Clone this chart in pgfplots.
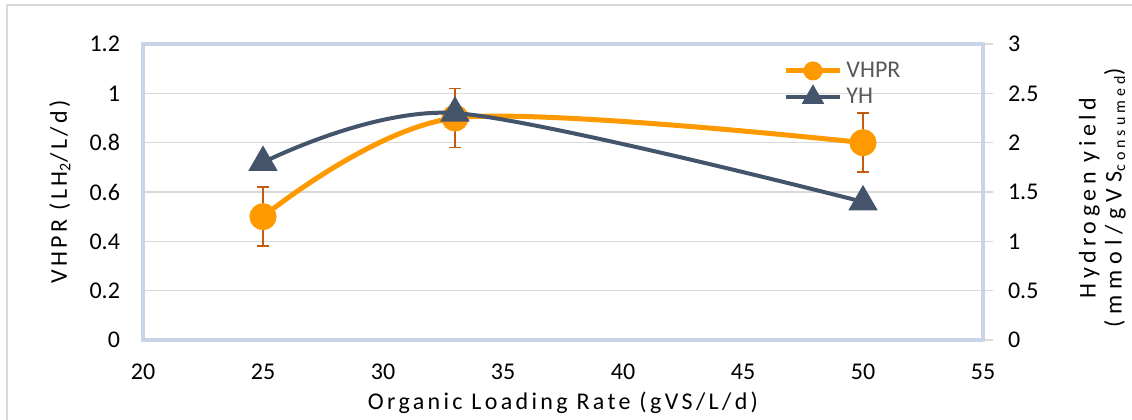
\documentclass[border=0pt]{standalone}
\usepackage{fontspec}
\setmainfont{Carlito}
\newfontfamily\spaced[LetterSpace=14]{Carlito}
\newfontfamily\midsp[LetterSpace=19]{Carlito}
\newfontfamily\wide[LetterSpace=25]{Carlito}
\usepackage{pgfplots}
\pgfplotsset{compat=1.18}

\definecolor{vhpr}{RGB}{255,153,0}
\definecolor{yh}{RGB}{68,84,106}
\definecolor{errc}{RGB}{197,90,17}
\definecolor{frameblue}{RGB}{200,213,232}
\definecolor{gridc}{RGB}{217,217,217}
\definecolor{legtext}{RGB}{89,89,89}

\pgfplotsset{
  base/.style={
    scale only axis, width=420pt, height=148pt,
    xmin=20, xmax=55,
    /pgf/number format/assume math mode=true,
    tick label style={font=\fontsize{12}{14}\selectfont},
    label style={font=\fontsize{12}{14}\selectfont\spaced},
  },
}

\begin{document}
\begin{tikzpicture}
\path[use as bounding box] (-71.5pt,-39.5pt) rectangle (494.5pt,170pt);
\draw[gridc, line width=0.8pt] (-68pt,-60pt) -- (-68pt,167.5pt) -- (520pt,167.5pt);

% left axis: VHPR
\begin{axis}[base,
    ymin=0, ymax=1.2,
    xtick={20,25,30,35,40,45,50,55},
    ytick={0,0.2,0.4,0.6,0.8,1,1.2},
    ymajorgrids, grid style={gridc, line width=0.8pt},
    axis line style={frameblue, line width=2pt},
    major tick length=0pt,
    xtick pos=bottom, ytick pos=left,
    xticklabel style={yshift=-8.5pt},
    yticklabel style={xshift=-8pt},
    xlabel={Organic Loading Rate (gVS/L/d)},
    xlabel style={at={(axis description cs:0.5,-0.212)}, anchor=center},
    ylabel={VHPR (LH\textsubscript{2}/L/d)},
    ylabel style={at={(axis description cs:-0.099,0.5)}, anchor=center},
]
\addplot[vhpr, line width=2.5pt, smooth, mark=*, mark size=5.5pt,
    mark options={solid, fill=vhpr, draw=vhpr},
    error bars/.cd, y dir=both, y explicit,
    error bar style={errc, line width=0.8pt},
    error mark options={errc, rotate=90, mark size=3pt, line width=0.8pt}]
  coordinates {(25,0.5) +- (0,0.12) (33,0.9) +- (0,0.12) (50,0.8) +- (0,0.12)};
\end{axis}

% right axis: hydrogen yield
\begin{axis}[base,
    ymin=0, ymax=3,
    ytick={0,0.5,1,1.5,2,2.5,3},
    axis x line=none, axis y line*=right,
    y axis line style={frameblue, line width=2pt},
    tick align=outside, major tick length=5pt,
    ytick style={gridc, line width=0.8pt},
    yticklabel style={xshift=4pt},
    ylabel={{\midsp Hydrogen yield}\\{\wide (mmol/gVS\textsubscript{consumed})}},
    ylabel style={font=\fontsize{12}{13}\selectfont, align=center,
        at={(axis description cs:1.142,0.48)}, anchor=center},
    legend style={at={(axis description cs:0.762,0.955)}, anchor=north west,
        draw=none, fill=none, inner sep=0pt, row sep=0pt,
        font=\fontsize{12}{14}\selectfont, text=legtext},
    legend cell align=left,
    legend image code/.code={\draw[#1, mark repeat=2, mark phase=2]
        plot coordinates {(0pt,0pt) (13.5pt,0pt) (27pt,0pt)};},
]
\addlegendimage{vhpr, line width=2.5pt, mark=*, mark size=3.5pt, mark options={fill=vhpr}}
\addlegendentry{VHPR}
\addlegendimage{yh, line width=2pt, mark=triangle*, mark size=4.5pt, mark options={fill=yh}}
\addlegendentry{YH}
\addplot[forget plot, yh, line width=2pt, smooth, mark=triangle*, mark size=6.5pt,
    mark options={fill=yh}]
  coordinates {(25,1.8) (33,2.3) (50,1.4)};
\end{axis}
\end{tikzpicture}
\end{document}
